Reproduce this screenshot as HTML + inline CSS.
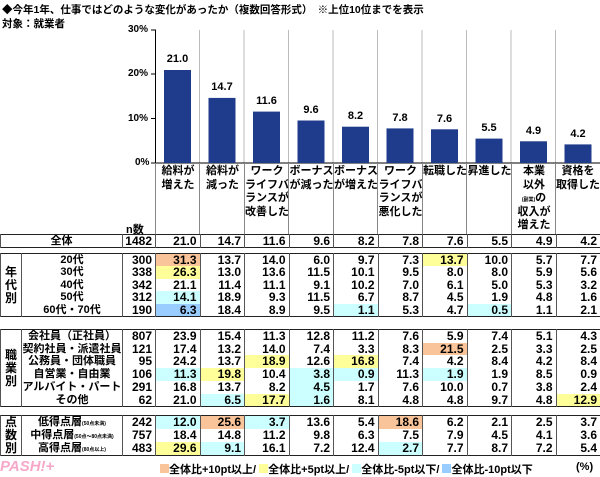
<!DOCTYPE html>
<html><head><meta charset="utf-8"><style>
body{margin:0;width:600px;height:475px;background:#fff;position:relative;overflow:hidden;font-family:"Liberation Sans","Noto Sans CJK JP",sans-serif;font-weight:bold;color:#000}
.a{position:absolute}
.t{font-size:10px;white-space:nowrap}
table{position:absolute;left:0;border-collapse:collapse;table-layout:fixed;font-size:12px}
td{border:1px solid #555;border-top:none;border-bottom:none;padding:0 3px 0 0;text-align:right;overflow:hidden;white-space:nowrap}
table.b{border:1.5px solid #222}
table.r1 td{height:12.4px;line-height:12.4px}
table.r2 td{height:12.7px;line-height:12.7px}
table.r3 td{height:12.3px;line-height:12.3px}
td.g{text-align:center;padding:0;font-size:12px;line-height:13px!important;vertical-align:middle}
td.l{text-align:center;padding:0;font-size:11px}
.o{background:#f9c499}.y{background:#ffff99}.c{background:#ccffff}.u{background:#99ccff}
.cat{position:absolute;top:163px;height:70px;border-left:1px solid #888;font-size:11px;text-align:center;line-height:13.5px;padding-top:2px}
small{font-size:5px;line-height:5px}
</style></head><body>
<div class="a t" style="left:2px;top:2px;font-size:10.5px">◆今年1年、仕事ではどのような変化があったか（複数回答形式）　※上位10位までを表示</div>
<div class="a t" style="left:2px;top:16px;font-size:10.5px">対象：就業者</div>
<div class="a t" style="left:128px;top:24px">30%</div>
<div class="a t" style="left:128px;top:68px">20%</div>
<div class="a t" style="left:128px;top:113px">10%</div>
<div class="a t" style="left:135px;top:157px">0%</div>
<svg class="a" style="left:0;top:0" width="600" height="240">
<g stroke="#bbb" stroke-width="1">
<line x1="199.5" y1="30" x2="199.5" y2="163"/><line x1="244" y1="30" x2="244" y2="163"/><line x1="288.5" y1="30" x2="288.5" y2="163"/><line x1="333" y1="30" x2="333" y2="163"/><line x1="377.5" y1="30" x2="377.5" y2="163"/><line x1="422" y1="30" x2="422" y2="163"/><line x1="466.5" y1="30" x2="466.5" y2="163"/><line x1="511" y1="30" x2="511" y2="163"/><line x1="555.5" y1="30" x2="555.5" y2="163"/>
</g>
<g stroke="#000"><line x1="155.5" y1="30" x2="155.5" y2="163"/><line x1="151" y1="30" x2="156" y2="30"/><line x1="151" y1="74" x2="156" y2="74"/><line x1="151" y1="118.5" x2="156" y2="118.5"/><line x1="151" y1="163" x2="600" y2="163"/></g>
<g fill="#1f3b8c">
<rect x="164" y="70" width="27" height="93"/>
<rect x="208.5" y="97.9" width="27" height="65.1"/>
<rect x="253" y="111.6" width="27" height="51.4"/>
<rect x="297.5" y="120.5" width="27" height="42.5"/>
<rect x="342" y="126.7" width="27" height="36.3"/>
<rect x="386.5" y="128.4" width="27" height="34.6"/>
<rect x="431" y="129.3" width="27" height="33.7"/>
<rect x="475.5" y="138.6" width="27" height="24.4"/>
<rect x="520" y="141.3" width="27" height="21.7"/>
<rect x="564.5" y="144.4" width="27" height="18.6"/>
</g>
<g font-size="11" text-anchor="middle" font-family="Liberation Sans" font-weight="bold">
<text x="177.5" y="62">21.0</text><text x="222" y="90">14.7</text><text x="266.5" y="104">11.6</text><text x="311" y="113">9.6</text><text x="355.5" y="119">8.2</text><text x="400" y="121">7.8</text><text x="444.5" y="122">7.6</text><text x="489" y="131">5.5</text><text x="533.5" y="134">4.9</text><text x="578" y="137">4.2</text>
</g>
</svg>
<div class="cat" style="left:155px;width:44px">給料が<br>増えた</div>
<div class="cat" style="left:199px;width:45px">給料が<br>減った</div>
<div class="cat" style="left:244px;width:44px">ワーク<br>ライフバ<br>ランスが<br>改善した</div>
<div class="cat" style="left:288px;width:45px">ボーナス<br>が減った</div>
<div class="cat" style="left:333px;width:44px">ボーナス<br>が増えた</div>
<div class="cat" style="left:377px;width:45px">ワーク<br>ライフバ<br>ランスが<br>悪化した</div>
<div class="cat" style="left:422px;width:44px">転職した</div>
<div class="cat" style="left:466px;width:45px">昇進した</div>
<div class="cat" style="left:511px;width:44px">本業<br>以外<br><small>(副業)</small>の<br>収入が<br>増えた</div>
<div class="cat" style="left:555px;width:44px;border-right:1px solid #888">資格を<br>取得した</div>
<div class="a t" style="left:126px;top:221px;font-size:11px">n数</div>

<table class="b r1" style="top:234px;width:600px">
<colgroup><col style="width:122px"><col style="width:33px"><col span="10" style="width:44.5px"></colgroup>
<tr><td class="l">全体</td><td>1482</td><td>21.0</td><td>14.7</td><td>11.6</td><td>9.6</td><td>8.2</td><td>7.8</td><td>7.6</td><td>5.5</td><td>4.9</td><td>4.2</td></tr>
</table>

<table class="b r1" style="top:253px;width:600px">
<colgroup><col style="width:21px"><col style="width:101px"><col style="width:33px"><col span="10" style="width:44.5px"></colgroup>
<tr><td class="g" rowspan="5">年<br>代<br>別</td><td class="l">20代</td><td>300</td><td class="o">31.3</td><td>13.7</td><td>14.0</td><td>6.0</td><td>9.7</td><td>7.3</td><td class="y">13.7</td><td>10.0</td><td>5.7</td><td>7.7</td></tr>
<tr><td class="l">30代</td><td>338</td><td class="y">26.3</td><td>13.0</td><td>13.6</td><td>11.5</td><td>10.1</td><td>9.5</td><td>8.0</td><td>8.0</td><td>5.9</td><td>5.6</td></tr>
<tr><td class="l">40代</td><td>342</td><td>21.1</td><td>11.4</td><td>11.1</td><td>9.1</td><td>10.2</td><td>7.0</td><td>6.1</td><td>5.0</td><td>5.3</td><td>3.2</td></tr>
<tr><td class="l">50代</td><td>312</td><td class="c">14.1</td><td>18.9</td><td>9.3</td><td>11.5</td><td>6.7</td><td>8.7</td><td>4.5</td><td>1.9</td><td>4.8</td><td>1.6</td></tr>
<tr><td class="l">60代・70代</td><td>190</td><td class="u">6.3</td><td>18.4</td><td>8.9</td><td>9.5</td><td class="c">1.1</td><td>5.3</td><td>4.7</td><td class="c">0.5</td><td>1.1</td><td>2.1</td></tr>
</table>

<table class="b r2" style="top:329px;width:600px">
<colgroup><col style="width:21px"><col style="width:101px"><col style="width:33px"><col span="10" style="width:44.5px"></colgroup>
<tr><td class="g" rowspan="6">職<br>業<br>別</td><td class="l">会社員（正社員）</td><td>807</td><td>23.9</td><td>15.4</td><td>11.3</td><td>12.8</td><td>11.2</td><td>7.6</td><td>5.9</td><td>7.4</td><td>5.1</td><td>4.3</td></tr>
<tr><td class="l">契約社員・派遣社員</td><td>121</td><td>17.4</td><td>13.2</td><td>14.0</td><td>7.4</td><td>3.3</td><td>8.3</td><td class="o">21.5</td><td>2.5</td><td>3.3</td><td>2.5</td></tr>
<tr><td class="l">公務員・団体職員</td><td>95</td><td>24.2</td><td>13.7</td><td class="y">18.9</td><td>12.6</td><td class="y">16.8</td><td>7.4</td><td>4.2</td><td>8.4</td><td>4.2</td><td>8.4</td></tr>
<tr><td class="l">自営業・自由業</td><td>106</td><td class="c">11.3</td><td class="y">19.8</td><td>10.4</td><td class="c">3.8</td><td class="c">0.9</td><td>11.3</td><td class="c">1.9</td><td>1.9</td><td>8.5</td><td>0.9</td></tr>
<tr><td class="l">アルバイト・パート</td><td>291</td><td>16.8</td><td>13.7</td><td>8.2</td><td class="c">4.5</td><td>1.7</td><td>7.6</td><td>10.0</td><td>0.7</td><td>3.8</td><td>2.4</td></tr>
<tr><td class="l">その他</td><td>62</td><td>21.0</td><td class="c">6.5</td><td class="y">17.7</td><td class="c">1.6</td><td>8.1</td><td>4.8</td><td>4.8</td><td>9.7</td><td>4.8</td><td class="y">12.9</td></tr>
</table>

<table class="b r3" style="top:415px;width:600px">
<colgroup><col style="width:21px"><col style="width:101px"><col style="width:33px"><col span="10" style="width:44.5px"></colgroup>
<tr><td class="g" rowspan="3">点<br>数<br>別</td><td class="l">低得点層<small>(50点未満)</small></td><td>242</td><td class="c">12.0</td><td class="o">25.6</td><td class="c">3.7</td><td>13.6</td><td>5.4</td><td class="o">18.6</td><td>6.2</td><td>2.1</td><td>2.5</td><td>3.7</td></tr>
<tr><td class="l">中得点層<small>(50点～80点未満)</small></td><td>757</td><td>18.4</td><td>14.8</td><td>11.2</td><td>9.8</td><td>6.3</td><td>7.5</td><td>7.9</td><td>4.5</td><td>4.1</td><td>3.6</td></tr>
<tr><td class="l">高得点層<small>(80点以上)</small></td><td>483</td><td class="y">29.6</td><td class="c">9.1</td><td>16.1</td><td>7.2</td><td>12.4</td><td class="c">2.7</td><td>7.7</td><td>8.7</td><td>7.2</td><td>5.4</td></tr>
</table>

<div class="a" style="left:0;top:458px;font-size:15px;font-style:italic;color:#f7a8c8;font-weight:bold">PASH!+</div>
<div class="a t" style="left:160px;top:461px;font-size:11px">
<span style="display:inline-block;width:9px;height:9px;background:#f9c499"></span>全体比+10pt以上/
<span style="display:inline-block;width:9px;height:9px;background:#ffff99"></span>全体比+5pt以上/
<span style="display:inline-block;width:9px;height:9px;background:#ccffff"></span>全体比-5pt以下/
<span style="display:inline-block;width:9px;height:9px;background:#99ccff"></span>全体比-10pt以下</div>
<div class="a t" style="left:576px;top:461px;font-size:11px">(%)</div>
</body></html>
